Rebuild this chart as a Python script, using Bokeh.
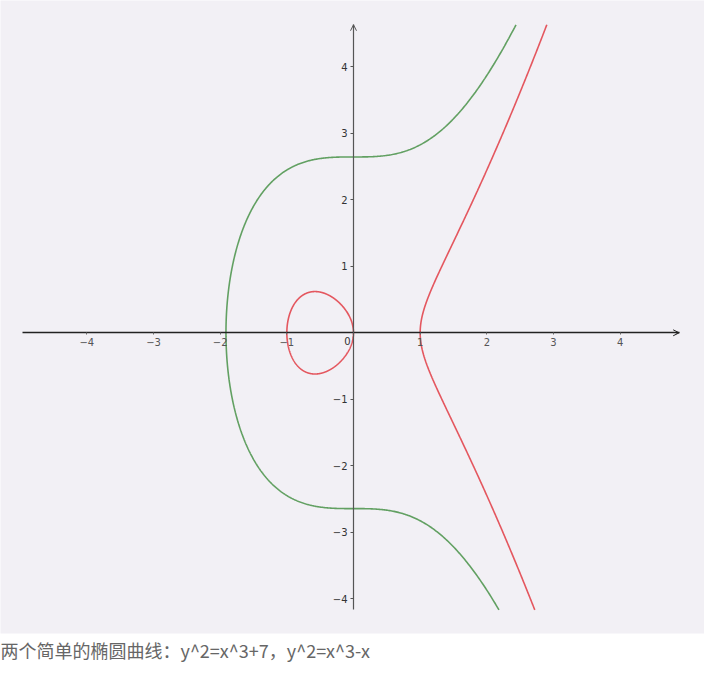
import numpy as np
from bokeh.plotting import figure
from bokeh.models import (Range1d, LinearAxis, FixedTicker, Arrow, OpenHead,
                          Label, Title)
from bokeh.embed import file_html
from bokeh.resources import INLINE

# ---- data ----
# curves y^2 = x^3 + a*x + b
green_a, green_b = 0.0, 7.0      # y^2 = x^3 + 7
red_a, red_b = -1.0, 0.0         # y^2 = x^3 - x
# view limits of the graphics window (data units)
view_y_top = 4.635
view_y_bottom = -4.17
x_axis_left = -4.965
x_axis_right = 4.885
x_ticks = [-4, -3, -2, -1, 1, 2, 3, 4]
x_tick_labels = ["−4", "−3", "−2", "−1", "1", "2", "3", "4"]
y_ticks = [-4, -3, -2, -1, 1, 2, 3, 4]
y_tick_labels = ["−4", "−3", "−2", "−1", "1", "2", "3", "4"]
origin_label = "0"
caption = "两个简单的椭圆曲线：y^2=x^3+7，y^2=x^3-x"


def f(x, a, b):
    return x ** 3 + a * x + b


def x_at(yv, a, b, lo, hi):
    # bisection for increasing right branch
    for _ in range(80):
        mid = (lo + hi) / 2
        if f(mid, a, b) < yv * yv:
            lo = mid
        else:
            hi = mid
    return (lo + hi) / 2


def right_branch(a, b, root):
    s = np.linspace(0, 1, 400)
    xt = x_at(view_y_top, a, b, root, 10)
    xb = x_at(view_y_bottom, a, b, root, 10)
    xu = root + (xt - root) * s ** 2
    xl = root + (xb - root) * s ** 2
    yu = np.sqrt(np.clip(f(xu, a, b), 0, None))
    yl = -np.sqrt(np.clip(f(xl, a, b), 0, None))
    return np.concatenate([xl[::-1], xu[1:]]), np.concatenate([yl[::-1], yu[1:]])


green_root = -(green_b ** (1 / 3))
gx, gy = right_branch(green_a, green_b, green_root)
rx, ry = right_branch(red_a, red_b, 1.0)

# red oval between roots -1 and 0
s = np.linspace(0, 1, 400)
ox = -1 + (1 - np.cos(np.pi * s)) / 2
oy = np.sqrt(np.clip(f(ox, red_a, red_b), 0, None))
oval_x = np.concatenate([ox, ox[::-1][1:]])
oval_y = np.concatenate([oy, -oy[::-1][1:]])

# ---- figure ----
p = figure(width=704, height=664,
           x_range=Range1d(-5.295, 5.265), y_range=Range1d(-4.525, 5.0),
           output_backend="svg", toolbar_location=None,
           x_axis_location=None, y_axis_location=None,
           min_border=0, min_border_left=0, min_border_right=0,
           min_border_top=0, min_border_bottom=0,
           background_fill_color="#f2f0f5", border_fill_color="white",
           outline_line_color=None)
p.grid.visible = False

label_font = "DejaVu Sans"

xaxis = LinearAxis(fixed_location=0, bounds=(x_axis_left, x_axis_right),
                   ticker=FixedTicker(ticks=x_ticks),
                   major_label_overrides={t: l for t, l in zip(x_ticks, x_tick_labels)},
                   major_tick_out=2, major_tick_in=0,
                   major_tick_line_color="#666",
                   minor_tick_line_color=None,
                   axis_line_color="#222", axis_line_width=1.3,
                   major_label_text_font=label_font,
                   major_label_text_font_size="10px",
                   major_label_text_color="#555",
                   major_label_standoff=3)
p.add_layout(xaxis, "below")

yaxis = LinearAxis(fixed_location=0, bounds=(view_y_bottom, view_y_top),
                   ticker=FixedTicker(ticks=y_ticks),
                   major_label_overrides={t: l for t, l in zip(y_ticks, y_tick_labels)},
                   major_tick_out=3, major_tick_in=0,
                   major_tick_line_color="#555",
                   minor_tick_line_color=None,
                   axis_line_color="#555", axis_line_width=1.2,
                   major_label_text_font=label_font,
                   major_label_text_font_size="10px",
                   major_label_text_color="#333",
                   major_label_standoff=3)
p.add_layout(yaxis, "left")

p.add_layout(Arrow(end=OpenHead(size=6, line_color="#222", line_width=1),
                   x_start=x_axis_right - 0.05, y_start=0, x_end=x_axis_right, y_end=0,
                   line_color="#222", line_width=1.3))
p.add_layout(Arrow(end=OpenHead(size=6, line_color="#555", line_width=1),
                   x_start=0, y_start=view_y_top - 0.05, x_end=0, y_end=view_y_top,
                   line_color="#555", line_width=1.2))

p.add_layout(Label(x=0, y=0, text=origin_label, x_offset=-3, y_offset=-4,
                   text_align="right", text_baseline="top",
                   text_font=label_font, text_font_size="10px", text_color="#333"))

p.line(gx, gy, line_color="#62a062", line_width=1.6)
p.line(rx, ry, line_color="#e4575f", line_width=1.6)
p.line(oval_x, oval_y, line_color="#e4575f", line_width=1.6)

p.add_layout(Title(text=caption, align="left", text_font="Noto Sans CJK SC",
                   text_font_size="18px", text_font_style="normal",
                   text_color="#666", offset=0, standoff=3), "below")

open("out.html", "w").write(file_html(p, INLINE))
